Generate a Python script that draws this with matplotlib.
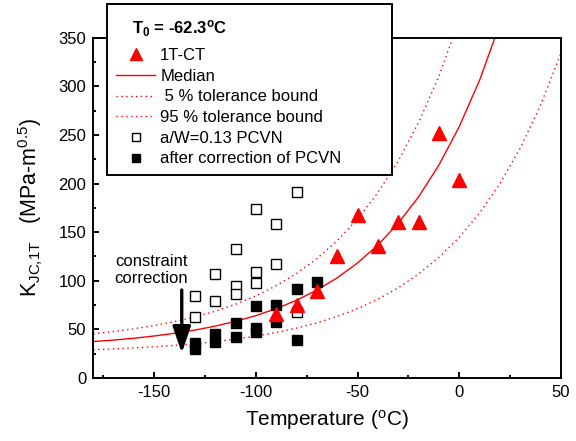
import matplotlib as ml
ml.use("Agg")
import matplotlib.pyplot as plt
from matplotlib.patches import Rectangle
from matplotlib.ticker import MultipleLocator

ml.rcParams.update({
    'font.family': 'Liberation Sans',
    'mathtext.fontset': 'custom',
    'mathtext.rm': 'Liberation Sans',
    'mathtext.it': 'Liberation Sans:italic',
    'mathtext.bf': 'Liberation Sans:bold',
    'axes.unicode_minus': False,
})

# 1T-CT tests
ct_temp = [-90, -80, -70, -60, -50, -40, -30, -20, -10, 0]
ct_kjc = [65.5, 74.8, 89.5, 125.5, 167.7, 135.8, 160.8, 160.2, 252.4, 203.7]

# PCVN a/W=0.13, as tested
pcvn_temp = [-130, -130, -120, -120, -110, -110, -110, -100, -100, -100, -90, -90, -80, -80]
pcvn_kjc = [84.7, 62.4, 107, 78.9, 133, 94.6, 86.4, 173.6, 109.4, 98, 158.4, 117, 191.7, 67.6]

# PCVN after constraint correction
corr_temp = [-130, -130, -120, -120, -110, -110, -100, -100, -100, -90, -90, -80, -80, -70]
corr_kjc = [36.3, 30.1, 45.3, 37, 56.9, 41.9, 74, 51, 47.6, 75.1, 57.9, 91.2, 39.1, 98.8]

# master curve and tolerance bounds (every 10 C)
curve_temp = [-180, -170, -160, -150, -140, -130, -120, -110, -100, -90, -80, -70,
              -60, -50, -40, -30, -20, -10, 0, 10, 20]
median = [37.5, 39.0, 40.9, 43.2, 46.0, 49.3, 53.4, 58.3, 64.2, 71.4, 80.0, 90.5,
          103.1, 118.4, 136.9, 159.3, 186.4, 219.1, 258.7, 306.5, 364.4]
bound_95 = [45.5, 47.8, 50.6, 53.9, 58.0, 62.8, 68.7, 75.9, 84.5, 95.0, 107.6, 122.9,
            141.4, 163.7, 190.7, 223.4, 262.9, 310.7, 368.4, 438.3, 522.8]
low_temp = curve_temp + [30, 40, 50]
bound_5 = [29.1, 29.9, 30.9, 32.1, 33.6, 35.3, 37.4, 40.0, 43.1, 46.8, 51.3, 56.8,
           63.4, 71.4, 81.1, 92.8, 107.0, 124.1, 144.8, 169.8, 200.0, 236.6, 280.8, 334.3]

W, H = 576, 441
fig = plt.figure(figsize=(W / 100, H / 100), dpi=100)
ax = fig.add_axes([93.3 / W, 1 - 378 / H, (561 - 93.3) / W, (378 - 37.7) / H])

dots = (0, (1, 2.5))
h_med, = ax.plot(curve_temp, median, color='red', lw=1.0)
h_5, = ax.plot(low_temp, bound_5, color='red', lw=1.0, ls=dots)
h_95, = ax.plot(curve_temp, bound_95, color='red', lw=1.0, ls=dots)
h_open, = ax.plot(pcvn_temp, pcvn_kjc, 's', ms=6.5, mfc='white', mec='black', mew=1.0)
h_fill, = ax.plot(corr_temp, corr_kjc, 's', ms=6.5, mfc='black', mec='black')
h_ct, = ax.plot(ct_temp, ct_kjc, '^', ms=10, color='red', mec='red')

ax.annotate('', xy=(-136.5, 25.7), xytext=(-136.5, 90.5),
            arrowprops=dict(arrowstyle='-|>, head_width=0.55, head_length=1.6',
                            color='black', lw=2.4, shrinkA=0, shrinkB=0))
ax.text(-151.4, 111, 'constraint\ncorrection', ha='center', va='center',
        fontsize=12, linespacing=1.15)

ax.set_xlim(-180, 50)
ax.set_ylim(0, 350)
ax.xaxis.set_major_locator(MultipleLocator(50))
ax.xaxis.set_minor_locator(MultipleLocator(25))
ax.yaxis.set_major_locator(MultipleLocator(50))
ax.yaxis.set_minor_locator(MultipleLocator(25))
ax.tick_params(which='both', direction='in', width=1.4, labelsize=12)
ax.tick_params(which='major', length=4.5, pad=5)
ax.tick_params(which='minor', length=2.5)
for sp in ax.spines.values():
    sp.set_linewidth(1.4)

ax.set_xlabel(r'Temperature ($^\mathrm{o}$C)', fontsize=15, labelpad=6)
ax.set_ylabel(r'K$_{\mathrm{JC{,}1T}}$   (MPa-m$^{0.5}$)', fontsize=15.5, labelpad=10)

# legend box sticks out above the axes, like the original
fig.add_artist(Rectangle((107 / W, 1 - 175 / H), (392 - 107) / W, (175 - 4) / H,
                         transform=fig.transFigure, facecolor='white',
                         edgecolor='black', lw=1.4, zorder=2))
fig.text(132 / W, 1 - 29 / H, r'$\mathbf{T_0}$ = -62.3$^\mathbf{o}$C',
         fontsize=12, fontweight='bold', va='center', ha='left', zorder=3)
fig.legend([h_ct, h_med, h_5, h_95, h_open, h_fill],
           ['1T-CT', 'Median', ' 5 % tolerance bound', '95 % tolerance bound',
            'a/W=0.13 PCVN', 'after correction of PCVN'],
           loc='upper left', bbox_to_anchor=(116 / W, 1 - 48 / H),
           frameon=False, fontsize=12, borderpad=0, borderaxespad=0,
           handlelength=2.35, handletextpad=0.3, labelspacing=0.34, markerscale=0.9)

fig.savefig('out.png', dpi=100)
